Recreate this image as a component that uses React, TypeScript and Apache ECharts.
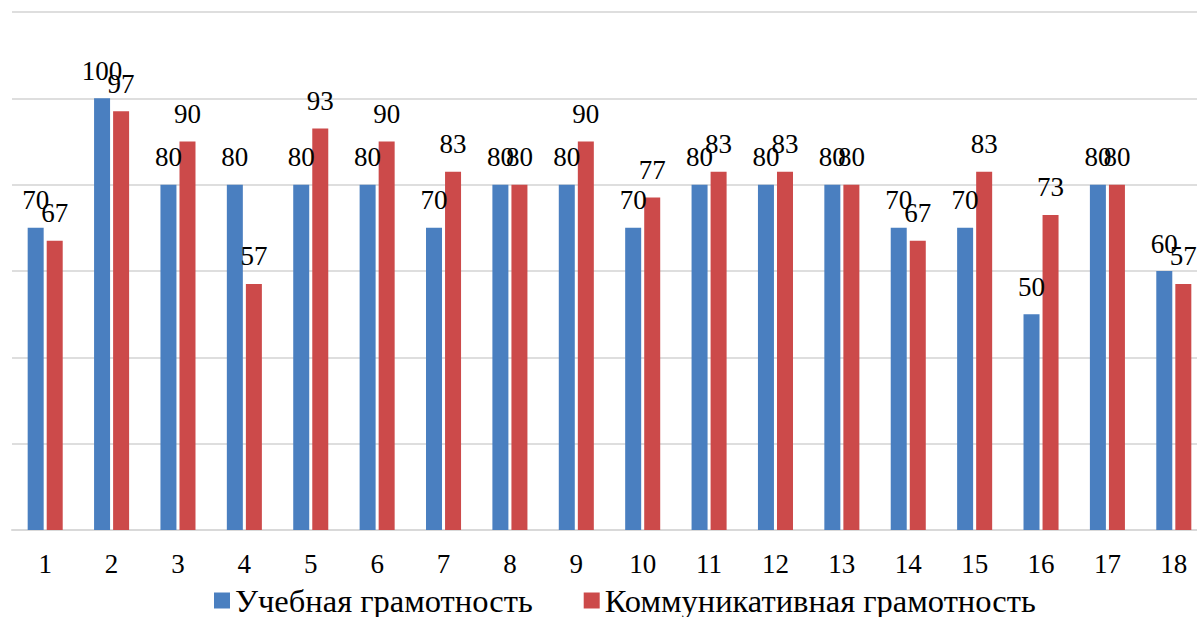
import React, { useEffect, useRef } from "react";
import * as echarts from "echarts";

const categories = ["1", "2", "3", "4", "5", "6", "7", "8", "9", "10", "11", "12", "13", "14", "15", "16", "17", "18"];
const learningValues = [70, 100, 80, 80, 80, 80, 70, 80, 80, 70, 80, 80, 80, 70, 70, 50, 80, 60];
const commValues = [67, 97, 90, 57, 93, 90, 83, 80, 90, 77, 83, 83, 80, 67, 83, 73, 80, 57];
const seriesNames = ["Учебная грамотность", "Коммуникативная грамотность"];

const FONT = "Liberation Serif";

export default function App() {
  const ref = useRef<HTMLDivElement>(null);
  useEffect(() => {
    if (!ref.current) return;
    const chart = echarts.init(ref.current, null, { renderer: "svg" });
    const label = {
      show: true,
      position: "top",
      distance: 14,
      color: "#000",
      fontFamily: FONT,
      fontSize: 27,
    };
    chart.setOption({
      animation: false,
      backgroundColor: "#fff",
      textStyle: { fontFamily: FONT },
      grid: { left: 12, top: 12, width: 1195, height: 518, containLabel: false },
      legend: {
        left: 209,
        top: 579,
        itemWidth: 16,
        itemHeight: 16,
        itemGap: 51,
        icon: "rect",
        textStyle: { fontFamily: FONT, fontSize: 32.5, color: "#000" },
        data: seriesNames,
      },
      xAxis: {
        type: "category",
        data: categories,
        axisTick: { show: false },
        axisLine: { show: true, lineStyle: { color: "#d9d9d9", width: 2 } },
        axisLabel: { color: "#000", fontFamily: FONT, fontSize: 27, margin: 20 },
      },
      yAxis: {
        type: "value",
        min: 0,
        max: 120,
        interval: 20,
        axisLabel: { show: false },
        axisLine: { show: false },
        axisTick: { show: false },
        splitLine: { lineStyle: { color: "#dedede", width: 2 } },
      },
      series: [
        {
          name: seriesNames[0],
          type: "bar",
          data: learningValues,
          barWidth: 16,
          barGap: "19%",
          itemStyle: { color: "#4a7fc0" },
          label,
        },
        {
          name: seriesNames[1],
          type: "bar",
          data: commValues,
          barWidth: 16,
          barGap: "19%",
          itemStyle: { color: "#cc4a4a" },
          label,
        },
      ],
    });
    return () => chart.dispose();
  }, []);
  return (
    <div style={{ position: "fixed", left: 0, top: 0, width: 1197, height: 617, overflow: "hidden", background: "#fff" }}>
      <div ref={ref} style={{ width: 1225, height: 617 }} />
    </div>
  );
}
